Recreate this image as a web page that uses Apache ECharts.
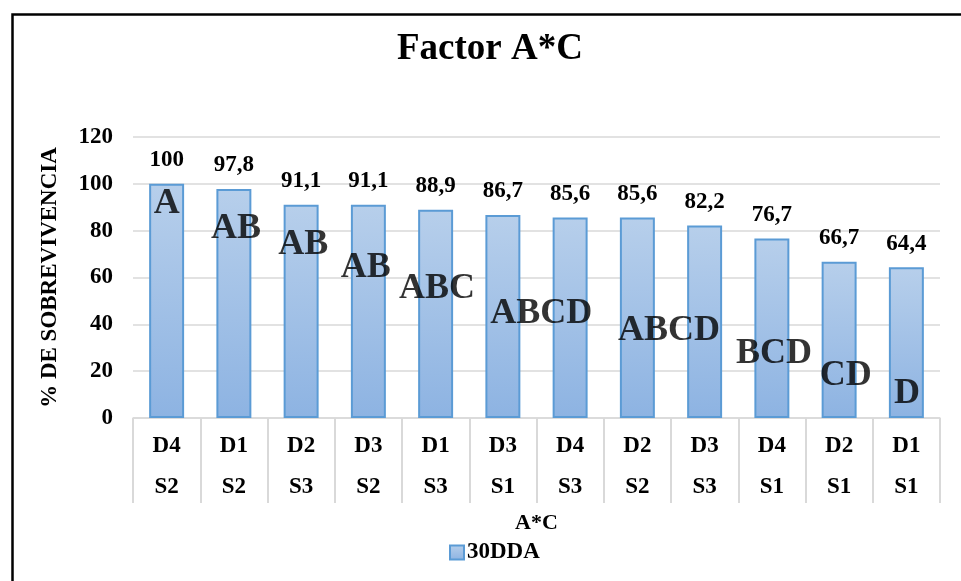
<!DOCTYPE html>
<html>
<head>
<meta charset="utf-8">
<script src="https://cdn.jsdelivr.net/npm/echarts@6/dist/echarts.min.js"></script>
<style>
html,body{margin:0;padding:0;background:#fff;}
#chart{width:961px;height:581px;}
</style>
</head>
<body>
<div id="chart"></div>
<script>
// Data
var dLabels = ["D4","D1","D2","D3","D1","D3","D4","D2","D3","D4","D2","D1"];
var sLabels = ["S2","S2","S3","S2","S3","S1","S3","S2","S3","S1","S1","S1"];
var values = [100, 97.8, 91.1, 91.1, 88.9, 86.7, 85.6, 85.6, 82.2, 76.7, 66.7, 64.4];
var valueText = ["100","97,8","91,1","91,1","88,9","86,7","85,6","85,6","82,2","76,7","66,7","64,4"];
// Significance letters and their anchor (category position, value level)
var letters = ["A","AB","AB","AB","ABC","ABCD","ABCD","BCD","CD","D"];
var letterX = [0.5, 1.53, 2.53, 3.46, 4.52, 6.07, 7.97, 9.53, 10.6, 11.51];
var letterY = [91.5, 81, 74.2, 64.3, 55.4, 44.7, 37.4, 27.6, 18.2, 10.5];
var seriesName = "30DDA";
var title = "Factor A*C";
var yName = "% DE SOBREVIVENCIA";
var xName = "A*C";

var FONT = "'Liberation Serif','Times New Roman',serif";
var cats = dLabels.map(function(d,i){return d + "\n" + sLabels[i];});
var letterData = letters.map(function(t,i){return {value:[letterX[i], letterY[i]], name:t};});

var barGrad = new echarts.graphic.LinearGradient(0,0,0,1,[
  {offset:0,color:'#b7cfeb'},{offset:1,color:'#8db3e2'}]);

var chart = echarts.init(document.getElementById('chart'), null, {renderer:'canvas'});
chart.setOption({
  animation:false,
  backgroundColor:'#ffffff',
  title:{
    text:title, left:392, top:26,
    textStyle:{fontFamily:FONT, fontWeight:'bold', fontSize:37, color:'#000'}
  },
  legend:{
    data:[seriesName], left:444, top:536,
    itemWidth:14, itemHeight:14, itemGap:4,
    icon:'rect',
    textStyle:{fontFamily:FONT, fontWeight:'bold', fontSize:23, color:'#000', padding:[0,0,0,-2]}
  },
  grid:{left:133, right:21, top:137, bottom:163, containLabel:false},
  xAxis:[{
    type:'category', data:cats,
    axisLine:{show:true, lineStyle:{color:'#d9d9d9', width:1.5}},
    axisTick:{show:true, interval:0, length:85, lineStyle:{color:'#d9d9d9', width:2}},
    axisLabel:{interval:0, margin:8, lineHeight:41, fontFamily:FONT, fontWeight:'bold', fontSize:23, color:'#000'},
    name:xName, nameLocation:'middle', nameGap:94,
    nameTextStyle:{fontFamily:FONT, fontWeight:'bold', fontSize:22, color:'#000'}
  },{
    type:'value', min:0, max:12, show:false, position:'bottom'
  }],
  yAxis:{
    type:'value', min:0, max:120, interval:20,
    axisLine:{show:false}, axisTick:{show:false},
    splitLine:{lineStyle:{color:'#d9d9d9', width:1.5}},
    axisLabel:{margin:20, fontFamily:FONT, fontWeight:'bold', fontSize:23, color:'#000'},
    name:yName, nameLocation:'middle', nameGap:71, nameRotate:90,
    nameTextStyle:{fontFamily:FONT, fontWeight:'bold', fontSize:23, color:'#000'}
  },
  series:[{
    name:seriesName, type:'bar', data:values, barWidth:'52%',
    xAxisIndex:0,
    itemStyle:{color:barGrad, borderColor:'#5b9bd5', borderWidth:2},
    label:{show:true, position:'top', distance:12,
      formatter:function(p){return valueText[p.dataIndex];},
      fontFamily:FONT, fontWeight:'bold', fontSize:23, color:'#000'}
  },{
    name:'letters', type:'scatter', xAxisIndex:1, yAxisIndex:0,
    data:letterData, symbolSize:0, silent:true,
    label:{show:true, position:'inside', formatter:'{b}',
      fontFamily:FONT, fontWeight:'bold', fontSize:36, color:'#000'}
  }],
  graphic:[{
    type:'rect', left:10, top:12, silent:true,
    shape:{x:0, y:0, width:1000, height:620},
    style:{fill:null, stroke:'#000', lineWidth:2.5}
  }]
});
</script>
</body>
</html>
